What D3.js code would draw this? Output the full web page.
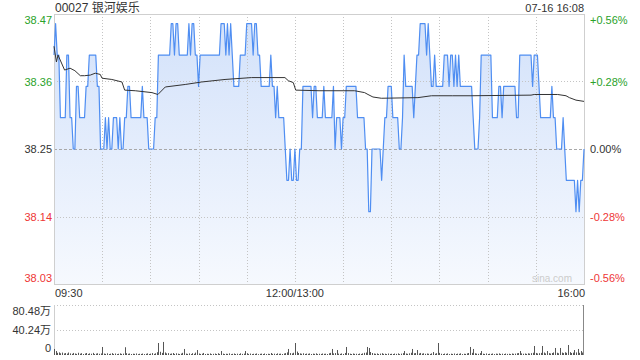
<!DOCTYPE html>
<html>
<head>
<meta charset="utf-8">
<script src="https://cdn.jsdelivr.net/npm/d3@7"></script>
<style>
  body { margin: 0; background: #fff; }
  svg { display: block; font-family: "Liberation Sans", Arial, sans-serif; }
</style>
</head>
<body>
<svg id="chart" width="640" height="360"></svg>
<script>
// ---- data ----
const stockTitle = "00027 银河娱乐";
const stampText = "07-16 16:08";
const prevClose = 38.25;
const halfRange = 0.2155;   // price axis spans prevClose +/- this
const priceTickLabels = ["38.47", "38.36", "38.25", "38.14", "38.03"];
const pctTickLabels = ["+0.56%", "+0.28%", "0.00%", "-0.28%", "-0.56%"];
const timeLabels = ["09:30", "12:00/13:00", "16:00"];
const timeLabelMinutes = [0, 150, 330];

// one price per trading minute (lunch break removed)
const prices = [
  38.40, 38.45, 38.40, 38.40, 38.30, 38.30, 38.30, 38.30, 38.40, 38.40,
  38.30, 38.30, 38.25, 38.25, 38.35, 38.35, 38.30, 38.30, 38.30, 38.30,
  38.35, 38.35, 38.40, 38.40, 38.40, 38.40, 38.40, 38.35, 38.35, 38.25,
  38.25, 38.25, 38.30, 38.25, 38.30, 38.25, 38.25, 38.30, 38.30, 38.30,
  38.25, 38.30, 38.25, 38.25, 38.30, 38.30, 38.35, 38.35, 38.30, 38.30,
  38.30, 38.30, 38.30, 38.30, 38.30, 38.35, 38.30, 38.30, 38.30, 38.25,
  38.25, 38.25, 38.25, 38.30, 38.30, 38.40, 38.40, 38.40, 38.40, 38.40,
  38.40, 38.40, 38.40, 38.45, 38.45, 38.40, 38.45, 38.45, 38.40, 38.40,
  38.40, 38.40, 38.40, 38.40, 38.45, 38.40, 38.45, 38.45, 38.40, 38.40,
  38.35, 38.40, 38.40, 38.40, 38.40, 38.40, 38.40, 38.40, 38.40, 38.40,
  38.40, 38.40, 38.40, 38.40, 38.45, 38.45, 38.45, 38.40, 38.45, 38.40,
  38.45, 38.40, 38.35, 38.35, 38.35, 38.35, 38.40, 38.40, 38.40, 38.40,
  38.45, 38.45, 38.45, 38.45, 38.40, 38.45, 38.45, 38.40, 38.40, 38.35,
  38.35, 38.35, 38.35, 38.35, 38.35, 38.40, 38.35, 38.35, 38.30, 38.35,
  38.30, 38.30, 38.30, 38.30, 38.25, 38.20, 38.20, 38.25, 38.20, 38.20,
  38.25, 38.20, 38.20, 38.25, 38.25, 38.35, 38.35, 38.35, 38.35, 38.35,
  38.35, 38.30, 38.35, 38.35, 38.30, 38.30, 38.30, 38.30, 38.35, 38.30,
  38.30, 38.30, 38.30, 38.30, 38.35, 38.25, 38.30, 38.30, 38.30, 38.25,
  38.30, 38.30, 38.35, 38.35, 38.35, 38.35, 38.35, 38.35, 38.35, 38.30,
  38.30, 38.30, 38.30, 38.30, 38.25, 38.25, 38.15, 38.15, 38.25, 38.25,
  38.25, 38.25, 38.25, 38.25, 38.20, 38.25, 38.30, 38.30, 38.35, 38.35,
  38.35, 38.30, 38.30, 38.30, 38.30, 38.25, 38.25, 38.30, 38.40, 38.35,
  38.35, 38.35, 38.35, 38.35, 38.30, 38.35, 38.40, 38.40, 38.45, 38.45,
  38.45, 38.45, 38.40, 38.45, 38.40, 38.35, 38.35, 38.40, 38.35, 38.35,
  38.35, 38.35, 38.35, 38.40, 38.40, 38.40, 38.35, 38.40, 38.40, 38.35,
  38.40, 38.35, 38.40, 38.35, 38.35, 38.35, 38.35, 38.35, 38.35, 38.35,
  38.35, 38.30, 38.25, 38.25, 38.25, 38.30, 38.40, 38.40, 38.40, 38.40,
  38.40, 38.40, 38.40, 38.30, 38.30, 38.30, 38.30, 38.35, 38.35, 38.30,
  38.35, 38.35, 38.35, 38.35, 38.35, 38.35, 38.35, 38.35, 38.30, 38.30,
  38.40, 38.40, 38.40, 38.40, 38.40, 38.40, 38.40, 38.40, 38.35, 38.40,
  38.40, 38.40, 38.35, 38.30, 38.30, 38.30, 38.30, 38.30, 38.30, 38.30,
  38.35, 38.30, 38.30, 38.25, 38.25, 38.25, 38.25, 38.30, 38.25, 38.20,
  38.20, 38.20, 38.20, 38.20, 38.20, 38.15, 38.20, 38.15, 38.20, 38.20,
  38.25
];

// average price line, sampled where it bends
const avgMinutes = [0, 1.5, 2.5, 6.6, 10, 13, 16.4, 19, 22.6, 25.7, 28.8, 29.9, 36, 42.3, 44,
  50.6, 61, 64.7, 69.3, 81.7, 92, 106.5, 123, 143.8, 145.9, 149, 150.5, 165, 187.2,
  193.4, 195.5, 198.6, 203.8, 226.6, 235, 248, 259.6, 297, 299, 313.6, 318.8, 320.9, 325, 330];
const avgValues = [38.414, 38.389, 38.400, 38.376, 38.379, 38.375, 38.367, 38.367, 38.368, 38.371,
  38.369, 38.363, 38.361, 38.357, 38.344, 38.343, 38.340, 38.337, 38.349, 38.353, 38.357,
  38.361, 38.364, 38.364, 38.359, 38.356, 38.344, 38.343, 38.343, 38.340, 38.337, 38.333,
  38.331, 38.332, 38.335, 38.335, 38.335, 38.336, 38.337, 38.337, 38.335, 38.332, 38.328, 38.326];

// volume per minute, in 万 shares
const volumes = [
  9.7, 6.4, 3.5, 4.2, 2.8, 3.9, 2.5, 3.1, 2.2, 4.0, 2.6, 1.9, 3.3, 2.4, 1.8, 3.6, 2.1, 2.9, 1.6, 2.4,
  3.2, 1.7, 2.6, 2.0, 3.4, 1.5, 2.2, 2.8, 1.9, 2.5, 12.9, 2.3, 1.8, 2.7, 1.6, 2.1, 3.0, 1.7, 2.4, 1.5,
  2.0, 2.6, 1.8, 2.2, 12.5, 2.9, 1.9, 2.4, 1.6, 2.1, 1.8, 2.5, 1.4, 2.0, 1.7, 2.3, 1.5, 1.9, 2.6, 1.6,
  2.2, 3.1, 1.8, 2.7, 4.5, 19.3, 5.2, 3.4, 21.0, 4.1, 2.6, 3.0, 1.9, 2.4, 3.2, 1.7, 2.8, 2.1, 1.6, 2.3,
  3.5, 9.7, 2.2, 1.8, 2.6, 1.5, 2.9, 1.9, 3.8, 8.0, 2.4, 1.7, 2.1, 3.3, 1.6, 2.0, 1.8, 2.5, 1.4, 1.9,
  2.3, 1.6, 2.8, 1.7, 6.4, 2.2, 1.5, 2.0, 1.8, 2.6, 1.4, 1.9, 2.4, 1.6, 2.1, 1.5, 2.7, 1.8, 2.2, 6.4,
  2.9, 1.7, 2.3, 1.5, 2.0, 1.8, 2.5, 1.4, 1.9, 2.2, 1.6, 2.4, 1.5, 2.0, 1.7, 3.2, 1.8, 2.1, 1.5, 2.6,
  1.9, 2.2, 1.6, 2.4, 3.0, 4.2, 9.7, 3.1, 2.5, 3.6, 19.3, 5.5, 3.2, 2.6, 2.0, 2.8, 1.7, 2.3, 1.9, 2.5,
  1.6, 2.2, 1.8, 2.7, 1.5, 2.0, 1.7, 2.4, 1.9, 2.1, 1.6, 2.8, 3.4, 9.7, 2.6, 3.1, 8.0, 2.2, 1.8, 2.5,
  1.7, 3.3, 12.9, 3.0, 2.1, 1.6, 2.4, 1.8, 2.0, 1.5, 2.3, 1.7, 2.6, 3.5, 4.0, 12.9, 11.3, 4.8, 3.2, 2.4,
  1.9, 2.5, 1.6, 2.2, 2.9, 1.8, 2.1, 1.5, 2.4, 1.7, 2.0, 1.6, 2.3, 1.8, 2.6, 1.5, 2.2, 3.0, 6.4, 2.4,
  1.9, 2.7, 3.6, 9.7, 2.8, 3.1, 8.0, 2.5, 3.3, 2.2, 2.8, 1.9, 2.4, 2.0, 1.7, 2.6, 4.8, 2.1, 2.9, 19.3,
  3.4, 2.0, 1.6, 2.3, 1.8, 2.5, 1.5, 2.1, 1.7, 2.4, 1.6, 2.2, 1.9, 2.7, 1.5, 2.0, 1.8, 2.6, 3.2, 12.9,
  3.5, 9.7, 2.8, 2.2, 1.9, 3.0, 6.4, 2.1, 1.7, 2.5, 1.6, 2.0, 1.8, 2.4, 1.5, 2.2, 1.9, 2.6, 1.7, 2.1,
  1.6, 2.3, 1.8, 2.0, 1.5, 2.4, 1.9, 2.2, 2.8, 3.1, 6.4, 2.6, 2.0, 2.4, 1.8, 2.7, 2.2, 3.0, 3.6, 14.5,
  3.3, 2.5, 2.9, 3.4, 14.5, 4.0, 2.6, 6.4, 3.0, 2.4, 3.2, 4.1, 11.3, 3.6, 2.8, 11.3, 3.9, 3.1, 4.4, 3.5,
  16.1, 4.6, 3.2, 3.8, 8.0, 4.2, 9.7, 3.5, 6.4, 4.0, 80.48
];
const volMax = 80.48;
const volTickLabels = ["80.48万", "40.24万", "0"];

// ---- layout ----
const svg = d3.select("#chart");
const plotLeft = 54, plotRight = 584, plotTop = 14, plotBottom = 284;
const volTop = 305, volBottom = 355;
const green = "#2aa22a", red = "#ee3636", dark = "#333";

const x = d3.scaleLinear().domain([0, 330]).range([plotLeft, plotRight]);
const y = d3.scaleLinear().domain([prevClose - halfRange, prevClose + halfRange]).range([plotBottom, plotTop]);
const yv = d3.scaleLinear().domain([0, volMax]).range([volBottom, volTop]);

// gradient for the area under the price line
const defs = svg.append("defs");
const grad = defs.append("linearGradient")
    .attr("id", "areaGrad")
    .attr("gradientUnits", "userSpaceOnUse")
    .attr("x1", 0).attr("y1", plotTop).attr("x2", 0).attr("y2", plotBottom);
grad.append("stop").attr("offset", "0%").attr("stop-color", "#d2e1fa");
grad.append("stop").attr("offset", "100%").attr("stop-color", "#f6f9fe");

// area
const area = d3.area()
    .x((d, i) => x(i))
    .y0(plotBottom)
    .y1(d => y(d));
svg.append("path")
    .datum(prices)
    .attr("d", area)
    .attr("fill", "url(#areaGrad)");

// horizontal grid
const tickSteps = [2, 1, 0, -1, -2];
svg.append("g")
  .selectAll("line")
  .data(tickSteps.filter(k => Math.abs(k) === 1))
  .join("line")
    .attr("x1", plotLeft).attr("x2", plotRight)
    .attr("y1", k => Math.round(y(prevClose + k * halfRange / 2)) + 0.5)
    .attr("y2", k => Math.round(y(prevClose + k * halfRange / 2)) + 0.5)
    .attr("stroke", "#c4c4c4")
    .attr("stroke-dasharray", "1,2");
svg.append("line")
    .attr("x1", plotLeft).attr("x2", plotRight)
    .attr("y1", Math.round(y(prevClose)) + 0.5)
    .attr("y2", Math.round(y(prevClose)) + 0.5)
    .attr("stroke", "#a8a8a8")
    .attr("stroke-dasharray", "3,2");

// vertical grid every 30 minutes
svg.append("g")
  .selectAll("line")
  .data(d3.range(30, 330, 30))
  .join("line")
    .attr("x1", d => Math.round(x(d)) + 0.5)
    .attr("x2", d => Math.round(x(d)) + 0.5)
    .attr("y1", plotTop).attr("y2", plotBottom)
    .attr("stroke", "#c4c4c4")
    .attr("stroke-dasharray", "1,2");

// plot frame
svg.append("rect")
    .attr("x", plotLeft + 0.5).attr("y", plotTop + 0.5)
    .attr("width", plotRight - plotLeft).attr("height", plotBottom - plotTop)
    .attr("fill", "none")
    .attr("stroke", "#cfcfcf");

// price line
const line = d3.line()
    .x((d, i) => x(i))
    .y(d => y(d));
svg.append("path")
    .datum(prices)
    .attr("d", line)
    .attr("fill", "none")
    .attr("stroke", "#4f8ef2")
    .attr("stroke-width", 1.2)
    .attr("stroke-linejoin", "round");

// average line
const avgLine = d3.line()
    .x(d => x(d[0]))
    .y(d => y(d[1]));
svg.append("path")
    .datum(d3.zip(avgMinutes, avgValues))
    .attr("d", avgLine)
    .attr("fill", "none")
    .attr("stroke", dark)
    .attr("stroke-width", 1);

// axis labels, price side
const tickColor = k => k > 0 ? green : (k < 0 ? red : dark);
const labelY = (k) => {
  const ty = y(prevClose + k * halfRange / 2);
  if (k === 2) return plotTop + 10;
  if (k === -2) return plotBottom - 2.5;
  return ty + 4;
};
svg.append("g")
  .selectAll("text")
  .data(tickSteps)
  .join("text")
    .attr("x", 52)
    .attr("y", labelY)
    .attr("text-anchor", "end")
    .attr("font-size", 11)
    .attr("fill", tickColor)
    .text((k, i) => priceTickLabels[i]);
svg.append("g")
  .selectAll("text")
  .data(tickSteps)
  .join("text")
    .attr("x", 590)
    .attr("y", labelY)
    .attr("font-size", 11)
    .attr("fill", tickColor)
    .text((k, i) => pctTickLabels[i]);

// time labels
svg.append("g")
  .selectAll("text")
  .data(timeLabelMinutes)
  .join("text")
    .attr("x", (d, i) => i === 0 ? plotLeft + 1 : (i === 2 ? plotRight + 1 : x(d)))
    .attr("y", 297)
    .attr("text-anchor", (d, i) => i === 0 ? "start" : (i === 2 ? "end" : "middle"))
    .attr("font-size", 11)
    .attr("fill", dark)
    .text((d, i) => timeLabels[i]);

// title and stamp
svg.append("text")
    .attr("x", 55).attr("y", 12)
    .attr("font-size", 12)
    .attr("fill", dark)
    .style("font-family", "'Liberation Sans', 'Noto Sans CJK SC', sans-serif")
    .text(stockTitle);
svg.append("text")
    .attr("x", plotRight).attr("y", 12)
    .attr("text-anchor", "end")
    .attr("font-size", 11)
    .attr("fill", dark)
    .text(stampText);

// watermark
svg.append("text")
    .attr("x", 532).attr("y", 282)
    .attr("font-size", 10)
    .attr("fill", "#cccccc")
    .text("sina.com");

// ---- volume panel ----
svg.append("g")
  .selectAll("line")
  .data([volMax, volMax / 2])
  .join("line")
    .attr("x1", plotLeft).attr("x2", plotRight)
    .attr("y1", d => Math.round(yv(d)) + 0.5)
    .attr("y2", d => Math.round(yv(d)) + 0.5)
    .attr("stroke", "#c4c4c4")
    .attr("stroke-dasharray", "1,2");
svg.append("line")
    .attr("x1", plotLeft + 0.5).attr("x2", plotLeft + 0.5)
    .attr("y1", volTop).attr("y2", volBottom)
    .attr("stroke", "#cfcfcf");

svg.append("g")
  .selectAll("rect")
  .data(volumes)
  .join("rect")
    .attr("x", (d, i) => Math.round(x(i)) - (i === volumes.length - 1 ? 1 : 0))
    .attr("width", 1)
    .attr("y", d => yv(d))
    .attr("height", d => volBottom - yv(d))
    .attr("fill", (d, i) => i === volumes.length - 1 ? "#888" : "#555");

svg.append("g")
  .selectAll("text")
  .data([volMax, volMax / 2, 0])
  .join("text")
    .attr("x", 51)
    .attr("y", (d, i) => [volTop + 10, yv(d) + 4, volBottom - 3][i])
    .attr("text-anchor", "end")
    .attr("font-size", 11)
    .attr("fill", dark)
    .style("font-family", "'Liberation Sans', 'Noto Sans CJK SC', sans-serif")
    .text((d, i) => volTickLabels[i]);
</script>
</body>
</html>
